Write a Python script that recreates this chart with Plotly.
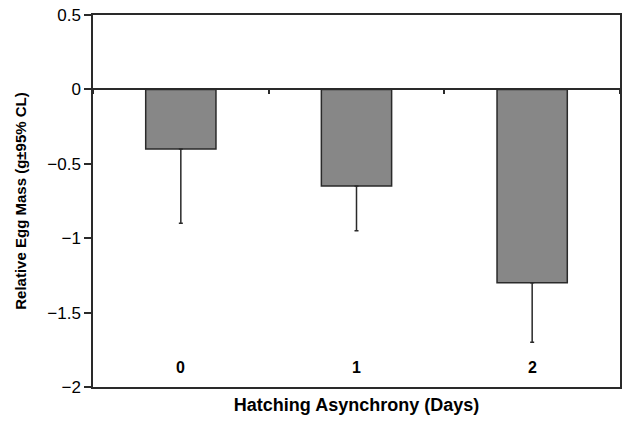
import plotly.graph_objects as go

categories = ["0", "1", "2"]
values = [-0.40, -0.65, -1.30]
err_minus = [0.50, 0.30, 0.40]
y_ticks = [0.5, 0, -0.5, -1, -1.5, -2]
y_tick_text = ["0.5", "0", "\u22120.5", "\u22121", "\u22121.5", "\u22122"]

font_family = "Liberation Sans, Arial, sans-serif"
dark = "#2a2a2a"

fig = go.Figure()
fig.add_trace(go.Bar(
    x=categories, y=values, width=0.4,
    marker=dict(color="#878787", line=dict(color=dark, width=1.5)),
    error_y=dict(type="data", symmetric=False, array=[0, 0, 0], arrayminus=err_minus,
                 color=dark, thickness=1.5, width=2),
    showlegend=False,
))
# invisible trace to carry the boundary ticks on the zero line
fig.add_trace(go.Scatter(x=categories, y=[None]*3, xaxis="x2", yaxis="y",
                         showlegend=False, hoverinfo="skip"))

# category labels placed inside the plot, near the bottom
for c in categories:
    fig.add_annotation(x=c, y=-1.87, xref="x", yref="y", text=f"<b>{c}</b>",
                       showarrow=False, font=dict(size=16, family=font_family, color="black"))

fig.update_layout(
    width=623, height=422,
    margin=dict(l=93, r=1, t=15, b=35),
    paper_bgcolor="white", plot_bgcolor="white",
    font=dict(family=font_family, color="black", size=14),
    xaxis=dict(
        type="category", showline=True, linecolor=dark, linewidth=1.5, mirror=True,
        ticks="", showgrid=False, zeroline=False, showticklabels=False,
        title=dict(text="<b>Hatching Asynchrony (Days)</b>", font=dict(size=18), standoff=11),
    ),
    xaxis2=dict(
        type="category", overlaying="x", anchor="free", position=0.8, side="bottom",
        matches="x", showline=False, ticks="outside", tickson="boundaries",
        ticklen=4, tickwidth=1.5, tickcolor=dark, showticklabels=False,
        showgrid=False, zeroline=False,
    ),
    yaxis=dict(
        range=[-2, 0.5], tickvals=y_ticks, ticktext=y_tick_text,
        showline=True, linecolor=dark, linewidth=1.5, mirror=True,
        ticks="outside", ticklen=7, tickwidth=1.5, tickcolor=dark,
        showgrid=False, zeroline=True, zerolinecolor=dark, zerolinewidth=1.5,
        tickfont=dict(size=17),
        title=dict(text="<b>Relative Egg Mass (g\u00b195% CL)</b>", font=dict(size=15), standoff=17),
    ),
)
fig.write_html("out.html")
